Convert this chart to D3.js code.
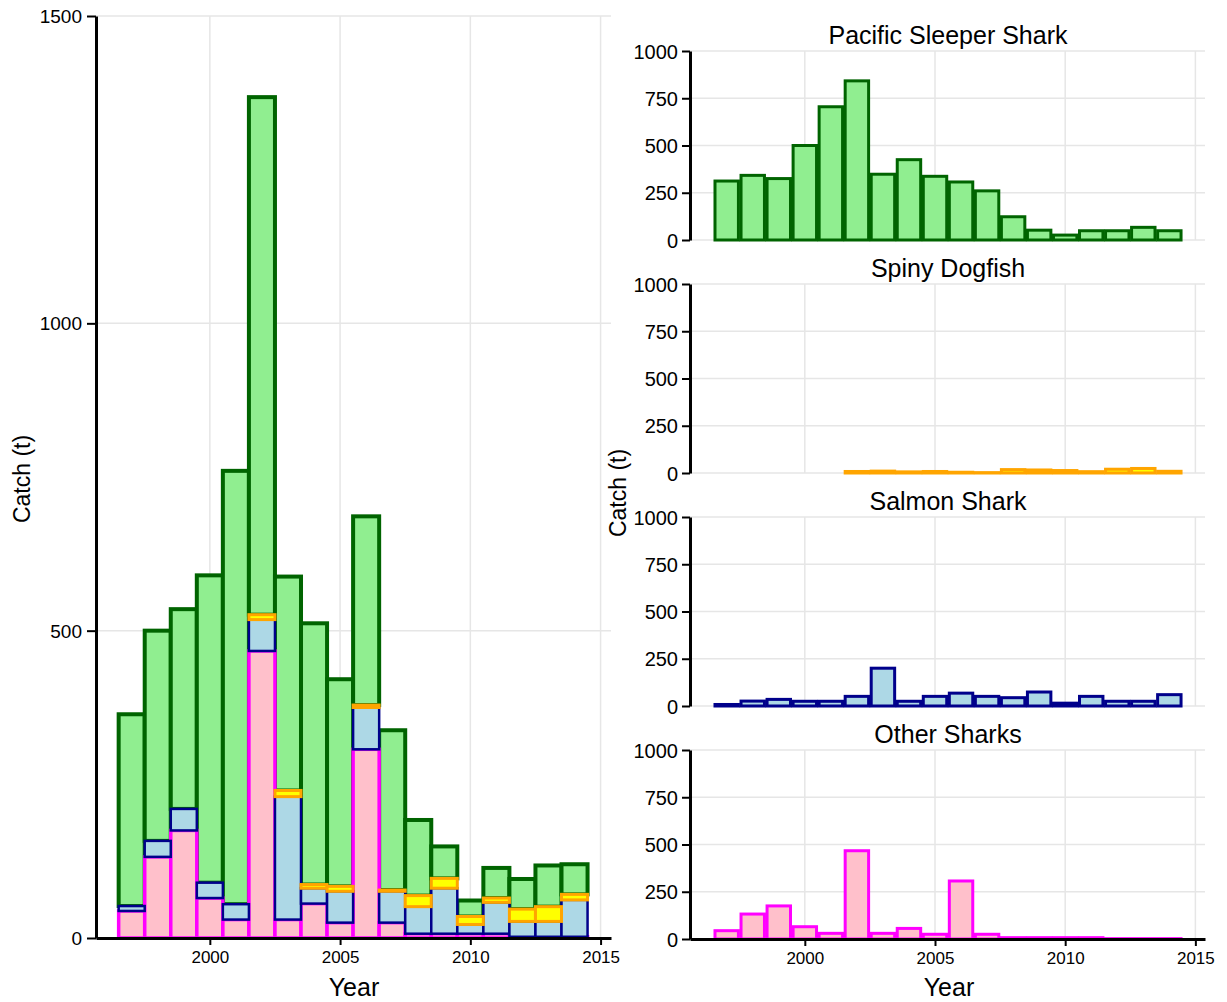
<!DOCTYPE html>
<html>
<head>
<meta charset="utf-8">
<script src="https://cdn.jsdelivr.net/npm/d3@7"></script>
<style>
  body { margin: 0; background: #fff; }
  text { font-family: "Liberation Sans", Arial, sans-serif; fill: #000; }
</style>
</head>
<body>
<svg id="chart" width="1227" height="1002"></svg>
<script>
// Shark catch (t) by year, 1997-2014
const years = [1997, 1998, 1999, 2000, 2001, 2002, 2003, 2004, 2005,
               2006, 2007, 2008, 2009, 2010, 2011, 2012, 2013, 2014];
const sleeperShark = [312, 342, 325, 500, 705, 842, 348, 425, 337,
                      307, 260, 123, 52, 26, 49, 49, 67, 49];
const spinyDogfish = [null, null, null, null, null, 8, 10, 6, 8,
                      4, 2, 18, 16, 13, 7, 20, 24, 9];
const salmonShark = [8, 26, 35, 25, 25, 51, 200, 25, 51,
                     68, 51, 44, 74, 15, 51, 25, 25, 60];
const otherSharks = [44, 132, 175, 65, 30, 467, 30, 56, 25,
                     307, 25, 7, 7, 7, 7, 2, 2, 2];

const leftTicksY = [0, 500, 1000, 1500];
const panelTicksY = [0, 250, 500, 750, 1000];
const ticksX = [2000, 2005, 2010, 2015];

// stacking order, bottom to top
const species = [
  { key: "other",   name: "Other Sharks",          values: otherSharks,  fill: "#ffc0cb", stroke: "#ff00ff", lw: 3.5 },
  { key: "salmon",  name: "Salmon Shark",          values: salmonShark,  fill: "#add8e6", stroke: "#00008b", lw: 2.5 },
  { key: "dogfish", name: "Spiny Dogfish",         values: spinyDogfish, fill: "#ffff00", stroke: "#ffa500", lw: 3 },
  { key: "sleeper", name: "Pacific Sleeper Shark", values: sleeperShark, fill: "#90ee90", stroke: "#006400", lw: 4 }
];
// painting order of the stacked layers (sleeper underneath the outlines of the others)
const paintOrder = ["sleeper", "other", "salmon", "dogfish"];

const rows = years.map((y, i) => {
  const r = { year: y };
  species.forEach(s => { r[s.key] = s.values[i] == null ? 0 : s.values[i]; });
  return r;
});

const svg = d3.select("#chart");
const grid = "#e6e6e6";
const fmt = d3.format("d");

// ---------- left: stacked totals ----------
const xL = d3.scaleLinear().domain([1995.63, 2015.4]).range([96, 611]);
const yL = d3.scaleLinear().domain([0, 1500]).range([938, 16]);
const L = svg.append("g");

L.selectAll("line.gy").data(leftTicksY).join("line")
  .attr("x1", xL.range()[0]).attr("x2", xL.range()[1])
  .attr("y1", d => yL(d)).attr("y2", d => yL(d))
  .attr("stroke", grid).attr("stroke-width", 1.5);
L.selectAll("line.gx").data(ticksX).join("line")
  .attr("x1", d => xL(d)).attr("x2", d => xL(d))
  .attr("y1", yL(1500)).attr("y2", yL(0))
  .attr("stroke", grid).attr("stroke-width", 1.5);

const stacked = d3.stack().keys(species.map(s => s.key))(rows);
paintOrder.forEach(key => {
  const li = species.findIndex(s => s.key === key);
  const s = species[li];
  const layer = stacked[li];
  L.append("g").selectAll("rect").data(layer.filter(d => d[1] > d[0])).join("rect")
    .attr("x", d => xL(d.data.year - 0.5))
    .attr("width", xL(1) - xL(0))
    .attr("y", d => yL(d[1]))
    .attr("height", d => yL(d[0]) - yL(d[1]))
    .attr("fill", s.fill).attr("stroke", s.stroke).attr("stroke-width", s.lw);
});

const axL = L.append("g").attr("transform", `translate(${xL.range()[0]},0)`)
  .call(d3.axisLeft(yL).tickValues(leftTicksY).tickFormat(fmt).tickSize(9).tickPadding(5).tickSizeOuter(0));
axL.select(".domain").attr("stroke-width", 3);
axL.selectAll(".tick line").attr("stroke-width", 2);
axL.selectAll("text").attr("font-size", 19).attr("dy", "0.35em");

const axLX = L.append("g").attr("transform", `translate(0,${yL(0)})`)
  .call(d3.axisBottom(xL).tickValues(ticksX).tickFormat(fmt).tickSize(7).tickPadding(6).tickSizeOuter(0));
axLX.select(".domain").attr("stroke-width", 3);
axLX.selectAll(".tick line").attr("stroke-width", 2);
axLX.selectAll("text").attr("font-size", 17);

L.append("text").attr("x", 354).attr("y", 996).attr("text-anchor", "middle")
  .attr("font-size", 25).text("Year");
L.append("text").attr("transform", "translate(30,479) rotate(-90)").attr("text-anchor", "middle")
  .attr("font-size", 23).text("Catch (t)");

// ---------- right: one panel per species ----------
const xR = d3.scaleLinear().domain([1995.59, 2015.37]).range([690, 1205]);
const panelOrder = ["sleeper", "dogfish", "salmon", "other"];

panelOrder.forEach((key, pi) => {
  const s = species.find(d => d.key === key);
  const base = 240 + pi * 233;
  const yR = d3.scaleLinear().domain([0, 1000]).range([base, base - 189]);
  const P = svg.append("g");

  P.selectAll("line.gy").data(panelTicksY).join("line")
    .attr("x1", xR.range()[0]).attr("x2", xR.range()[1])
    .attr("y1", d => yR(d)).attr("y2", d => yR(d))
    .attr("stroke", grid).attr("stroke-width", 1.5);
  P.selectAll("line.gx").data(ticksX).join("line")
    .attr("x1", d => xR(d)).attr("x2", d => xR(d))
    .attr("y1", yR(1000)).attr("y2", yR(0))
    .attr("stroke", grid).attr("stroke-width", 1.5);

  const pts = years.map((y, i) => ({ year: y, v: s.values[i] })).filter(d => d.v != null);
  P.selectAll("rect").data(pts).join("rect")
    .attr("x", d => xR(d.year - 0.45))
    .attr("width", xR(0.9) - xR(0))
    .attr("y", d => yR(d.v))
    .attr("height", d => yR(0) - yR(d.v))
    .attr("fill", s.fill).attr("stroke", s.stroke).attr("stroke-width", 3);

  const ay = P.append("g").attr("transform", `translate(${xR.range()[0]},0)`)
    .call(d3.axisLeft(yR).tickValues(panelTicksY).tickFormat(fmt).tickSize(8).tickPadding(4).tickSizeOuter(0));
  ay.select(".domain").attr("stroke-width", 3);
  ay.selectAll(".tick line").attr("stroke-width", 2);
  ay.selectAll("text").attr("font-size", 20).attr("dy", "0.35em");

  if (pi === panelOrder.length - 1) {
    const ax = P.append("g").attr("transform", `translate(0,${yR(0)})`)
      .call(d3.axisBottom(xR).tickValues(ticksX).tickFormat(fmt).tickSize(7).tickPadding(6).tickSizeOuter(0));
    ax.select(".domain").attr("stroke-width", 3);
    ax.selectAll(".tick line").attr("stroke-width", 2);
    ax.selectAll("text").attr("font-size", 17);
  }

  P.append("text").attr("x", 948).attr("y", base - 196).attr("text-anchor", "middle")
    .attr("font-size", 25).text(s.name);
});

svg.append("text").attr("x", 949).attr("y", 996).attr("text-anchor", "middle")
  .attr("font-size", 25).text("Year");
svg.append("text").attr("transform", "translate(626,493) rotate(-90)").attr("text-anchor", "middle")
  .attr("font-size", 23).text("Catch (t)");
</script>
</body>
</html>
